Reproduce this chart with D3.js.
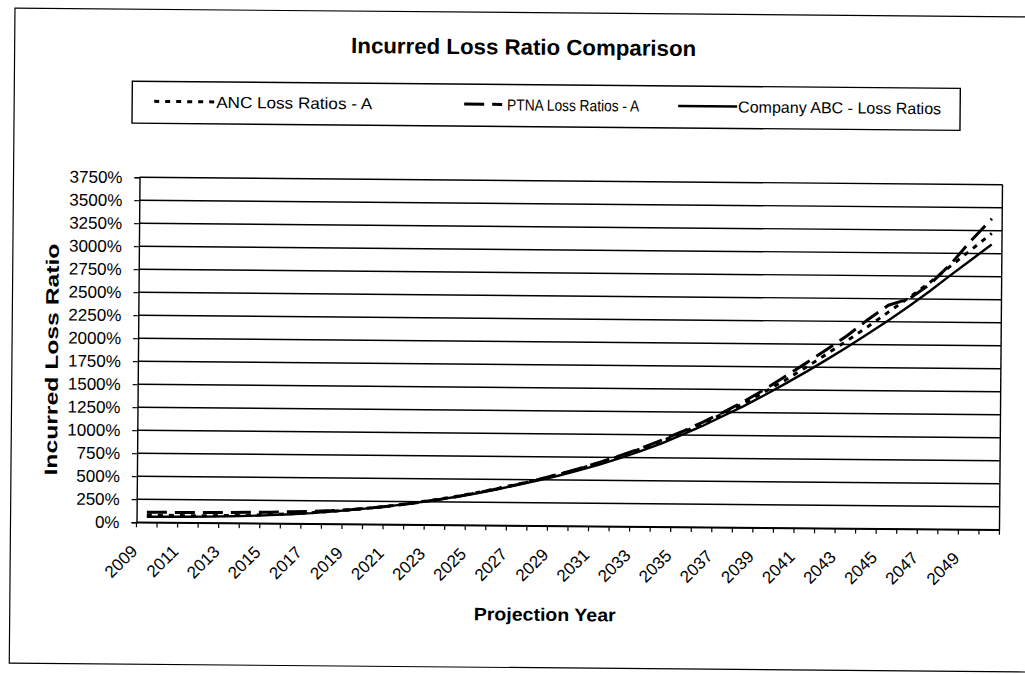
<!DOCTYPE html>
<html>
<head>
<meta charset="utf-8">
<script src="https://cdn.jsdelivr.net/npm/d3@7"></script>
<style>
  body { margin: 0; background: #fff; }
  text { font-family: "Liberation Sans", Arial, sans-serif; fill: #000; }
</style>
</head>
<body>
<div id="chart-container"></div>
<script>
   // data
   const years = [2009, 2010, 2011, 2012, 2013, 2014, 2015, 2016, 2017, 2018,
       2019, 2020, 2021, 2022, 2023, 2024, 2025, 2026, 2027, 2028,
       2029, 2030, 2031, 2032, 2033, 2034, 2035, 2036, 2037, 2038,
       2039, 2040, 2041, 2042, 2043, 2044, 2045, 2046, 2047, 2048,
       2049, 2050];

   const ancRatios = [80, 78, 76, 78, 82, 88, 96, 106, 120, 137,
       157, 180, 207, 238, 272, 310, 352, 398, 448, 500,
       557, 620, 690, 765, 845, 930, 1025, 1125, 1235, 1350,
       1475, 1605, 1745, 1890, 2040, 2195, 2355, 2515, 2680, 2860,
       3040, 3220];

   const ptnaRatios = [110, 110, 110, 112, 115, 118, 122, 128, 135, 145,
       160, 180, 205, 235, 268, 305, 350, 395, 445, 500,
       560, 625, 695, 770, 850, 940, 1035, 1140, 1250, 1370,
       1500, 1645, 1790, 1940, 2095, 2270, 2430, 2500, 2660, 2880,
       3140, 3380];

   const abcRatios = [60, 62, 64, 68, 73, 80, 90, 102, 116, 135,
       155, 178, 205, 235, 268, 305, 345, 390, 440, 490,
       545, 605, 670, 742, 820, 905, 1000, 1100, 1210, 1320,
       1440, 1565, 1695, 1830, 1970, 2115, 2265, 2420, 2585, 2760,
       2930, 3100];

   const yTicks = [0, 250, 500, 750, 1000, 1250, 1500, 1750, 2000,
       2250, 2500, 2750, 3000, 3250, 3500, 3750];

   const seriesNames = ["ANC Loss Ratios - A", "PTNA Loss Ratios - A", "Company ABC - Loss Ratios"];

   const W = 1025, H = 674;
   const plot = { left: 138, right: 1001, top: 181, bottom: 526 };

   const svg = d3.select("#chart-container")
       .append("svg")
       .attr("width", W)
       .attr("height", H);

   // the scan is tilted a little, so the whole page is turned half a degree
   const page = svg.append("g")
       .attr("transform", "rotate(0.5,570,353)");

   page.append("rect")
       .attr("x", 12).attr("y", 13)
       .attr("width", 1080).attr("height", 655)
       .attr("fill", "none")
       .attr("stroke", "#000")
       .attr("stroke-width", 1.2);

   const x = d3.scaleBand()
       .domain(years)
       .range([plot.left, plot.right]);

   const y = d3.scaleLinear()
       .domain([0, 3750])
       .range([plot.bottom, plot.top]);

   const cx = d => x(d) + x.bandwidth() / 2;

   // title
   page.append("text")
       .attr("x", 521).attr("y", 55)
       .attr("text-anchor", "middle")
       .attr("font-size", 22)
       .attr("font-weight", "bold")
       .attr("textLength", 345)
       .attr("lengthAdjust", "spacingAndGlyphs")
       .text("Incurred Loss Ratio Comparison");

   // gridlines
   page.append("g")
       .selectAll("line")
       .data(yTicks)
       .join("line")
       .attr("x1", plot.left).attr("x2", plot.right)
       .attr("y1", d => y(d)).attr("y2", d => y(d))
       .attr("stroke", "#000")
       .attr("stroke-width", 1.4);

   page.append("line")
       .attr("x1", plot.right).attr("x2", plot.right)
       .attr("y1", plot.top).attr("y2", plot.bottom)
       .attr("stroke", "#000").attr("stroke-width", 1.4);

   // y axis
   const yAxis = page.append("g")
       .attr("transform", `translate(${plot.left},0)`)
       .call(d3.axisLeft(y)
           .tickValues(yTicks)
           .tickSize(5)
           .tickPadding(12)
           .tickFormat(d => d + "%"));
   yAxis.select(".domain").attr("stroke-width", 1.4);
   yAxis.selectAll(".tick line").attr("stroke-width", 1.2);
   yAxis.selectAll("text")
       .attr("font-size", 17)
       .attr("font-family", "Liberation Sans, Arial, sans-serif");

   // x axis: labels on every second year, tick marks between categories
   const xAxis = page.append("g")
       .attr("transform", `translate(0,${plot.bottom})`)
       .call(d3.axisBottom(x)
           .tickValues(years.filter((d, i) => i % 2 === 0))
           .tickSize(0)
           .tickFormat(d3.format("d")));
   xAxis.select(".domain").attr("stroke-width", 1.6);
   xAxis.selectAll("text")
       .attr("font-size", 17)
       .attr("font-family", "Liberation Sans, Arial, sans-serif")
       .attr("text-anchor", "end")
       .attr("dy", null)
       .attr("y", 0)
       .attr("transform", "translate(-8,30) rotate(-45)");

   page.append("g")
       .selectAll("line")
       .data(years.concat([null]))
       .join("line")
       .attr("x1", d => d === null ? plot.right : x(d))
       .attr("x2", d => d === null ? plot.right : x(d))
       .attr("y1", plot.bottom)
       .attr("y2", plot.bottom + 5)
       .attr("stroke", "#000")
       .attr("stroke-width", 1.2);

   // axis titles
   page.append("text")
       .attr("transform", "translate(58,364) rotate(-90)")
       .attr("text-anchor", "middle")
       .attr("font-size", 18)
       .attr("font-weight", "bold")
       .attr("textLength", 232)
       .attr("lengthAdjust", "spacingAndGlyphs")
       .text("Incurred Loss Ratio");

   page.append("text")
       .attr("x", 547).attr("y", 621)
       .attr("text-anchor", "middle")
       .attr("font-size", 18)
       .attr("font-weight", "bold")
       .attr("textLength", 142)
       .attr("lengthAdjust", "spacingAndGlyphs")
       .text("Projection Year");

   // series
   const series = [
       { name: seriesNames[0], values: ancRatios, dash: "5,6", width: 3 },
       { name: seriesNames[1], values: ptnaRatios, dash: "20,8", width: 3 },
       { name: seriesNames[2], values: abcRatios, dash: null, width: 2.4 }
   ];

   const line = d3.line()
       .x((d, i) => cx(years[i]))
       .y(d => y(d));

   page.append("g")
       .selectAll("path")
       .data(series)
       .join("path")
       .attr("fill", "none")
       .attr("stroke", "#000")
       .attr("stroke-width", d => d.width)
       .attr("stroke-dasharray", d => d.dash)
       .attr("d", d => line(d.values));

   // legend
   const legend = page.append("g");
   legend.append("rect")
       .attr("x", 130).attr("y", 85)
       .attr("width", 828).attr("height", 42)
       .attr("fill", "#fff")
       .attr("stroke", "#000")
       .attr("stroke-width", 1.4);

   const legendItems = [
       { x0: 152, x1: 212, tx: 214, len: 156 },
       { x0: 462, x1: 500, tx: 505, len: 132 },
       { x0: 676, x1: 735, tx: 736, len: 203 }
   ];

   legendItems.forEach((it, i) => {
       legend.append("line")
           .attr("x1", it.x0).attr("x2", it.x1)
           .attr("y1", 105).attr("y2", 105)
           .attr("stroke", "#000")
           .attr("stroke-width", series[i].width)
           .attr("stroke-dasharray", series[i].dash);
       legend.append("text")
           .attr("x", it.tx).attr("y", 111)
           .attr("font-size", 16)
           .attr("textLength", it.len)
           .attr("lengthAdjust", "spacingAndGlyphs")
           .text(series[i].name);
   });
</script>
</body>
</html>
